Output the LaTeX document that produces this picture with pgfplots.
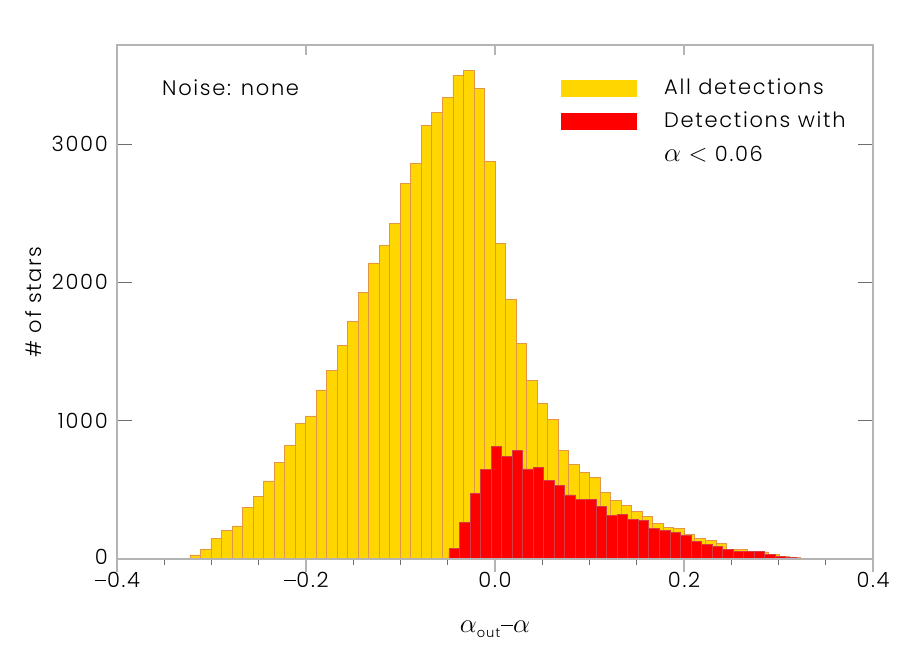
\documentclass[border=0pt]{standalone}
\usepackage{pgfplots}
\pgfplotsset{compat=1.18}
\usepackage{fontspec}
\setmainfont{Poppins}[UprightFont={* Light}, LetterSpace=8]
\newcommand{\mminus}{\makebox[0.62em]{\rule[0.34em]{0.56em}{1.3pt}}}
\newcommand{\alf}{\scalebox{1.3}{$\alpha$}}
\definecolor{gold}{RGB}{255,214,0}
\definecolor{goldedge}{RGB}{228,150,70}
\definecolor{redfill}{RGB}{255,0,0}
\definecolor{rededge}{RGB}{215,60,70}
\definecolor{framegray}{RGB}{180,180,180}
\definecolor{tickgray}{RGB}{110,110,110}

\begin{document}
\fontsize{21}{25}\selectfont
\begin{tikzpicture}
\useasboundingbox (0,0) rectangle (900pt,650pt);
\pgfplotsset{frame/.style={
    scale only axis, width=756pt, height=514pt,
    at={(117pt,91pt)}, anchor=south west,
    xmin=-0.4, xmax=0.4, ymin=0, ymax=3716,
    axis line style={draw=framegray, line width=1.6pt}}}

% data, bottom ticks pointing out
\begin{axis}[frame,
    xtick={-0.4,-0.2,0,0.2,0.4}, xticklabels={},
    minor xtick={-0.35,-0.3,-0.25,-0.15,-0.1,-0.05,0.05,0.1,0.15,0.25,0.3,0.35},
    xtick pos=left, ytick=\empty,
    tick align=outside, major tick length=13pt, minor tick length=6pt,
    major tick style={draw=framegray, line width=1.8pt},
    minor tick style={draw=tickgray, line width=0.8pt}]
  \addplot[ybar interval, fill=gold, draw=goldedge, line width=0.8pt] coordinates {
    (-0.3228,29) (-0.3117,72) (-0.3006,150) (-0.2894,205) (-0.2783,239)
    (-0.2672,371) (-0.2560,455) (-0.2449,564) (-0.2338,701) (-0.2226,822)
    (-0.2115,981) (-0.2004,1034) (-0.1892,1222) (-0.1781,1364) (-0.1670,1545)
    (-0.1558,1718) (-0.1447,1930) (-0.1336,2140) (-0.1225,2270) (-0.1113,2427)
    (-0.1002,2718) (-0.0891,2861) (-0.0779,3135) (-0.0668,3229) (-0.0557,3335)
    (-0.0445,3497) (-0.0334,3535) (-0.0223,3400) (-0.0111,2877) (0.0000,2282)
    (0.0111,1874) (0.0223,1559) (0.0334,1290) (0.0445,1126) (0.0557,1010)
    (0.0668,786) (0.0779,685) (0.0891,624) (0.1002,588) (0.1113,479)
    (0.1225,421) (0.1336,388) (0.1447,342) (0.1558,306) (0.1670,258)
    (0.1781,226) (0.1892,219) (0.2004,179) (0.2115,147) (0.2226,135)
    (0.2338,111) (0.2449,70) (0.2560,67) (0.2672,56) (0.2783,51)
    (0.2894,31) (0.3006,17) (0.3117,9) (0.3228,4) (0.3340,0)
  };
  \addplot[ybar interval, fill=redfill, draw=rededge, line width=0.8pt] coordinates {
    (-0.0487,74) (-0.0376,265) (-0.0264,475) (-0.0153,646) (-0.0042,815)
    (0.0070,742) (0.0181,783) (0.0292,651) (0.0404,663) (0.0515,566)
    (0.0626,530) (0.0738,463) (0.0849,432) (0.0960,429) (0.1072,383)
    (0.1183,318) (0.1294,325) (0.1405,287) (0.1517,277) (0.1628,218)
    (0.1739,207) (0.1851,190) (0.1962,173) (0.2073,128) (0.2185,103)
    (0.2296,92) (0.2407,67) (0.2519,53) (0.2630,53) (0.2741,56)
    (0.2852,31) (0.2964,20) (0.3075,12) (0.3186,0)
  };
\end{axis}

% top ticks pointing in, x labels at the bottom
\begin{axis}[frame,
    xtick={-0.4,-0.2,0,0.2,0.4},
    xticklabels={\mminus0.4,\mminus0.2,0.0,0.2,0.4},
    xtick pos=right, xticklabel pos=left, ytick=\empty,
    tick align=inside, major tick length=10pt,
    major tick style={draw=framegray, line width=1.8pt},
    xticklabel style={anchor=base, inner sep=0pt, yshift=-29pt}]
\end{axis}

% y ticks both sides pointing in
\begin{axis}[frame,
    ytick={0,1000,2000,3000},
    yticklabels={\raisebox{5pt}{0},1000,2000,3000},
    ytick pos=both, yticklabel pos=left, xtick=\empty,
    tick align=inside, major tick length=15pt,
    major tick style={draw=tickgray, line width=0.9pt},
    yticklabel style={anchor=east, inner sep=0pt, xshift=-9pt}]
\end{axis}

% labels and legend
\node[anchor=base, inner sep=0pt] at (495pt,17pt)
  {\alf\raisebox{-5pt}{\fontsize{13}{13}\selectfont out}\mminus\alf};
\node[rotate=90, inner sep=0pt] at (34pt,348pt) {\# of stars};
\node[anchor=base west, inner sep=0pt] at (162pt,554pt) {Noise: none};
\fill[gold] (561pt,553pt) rectangle (637pt,570pt);
\fill[redfill] (561pt,520pt) rectangle (637pt,537pt);
\node[anchor=base west, inner sep=0pt] at (664pt,555pt) {All detections};
\node[anchor=base west, inner sep=0pt] at (664pt,522pt) {Detections with};
\node[anchor=base west, inner sep=0pt] at (664pt,488pt) {\alf\ \scalebox{1.2}{$<$} 0.06};
\end{tikzpicture}
\end{document}
